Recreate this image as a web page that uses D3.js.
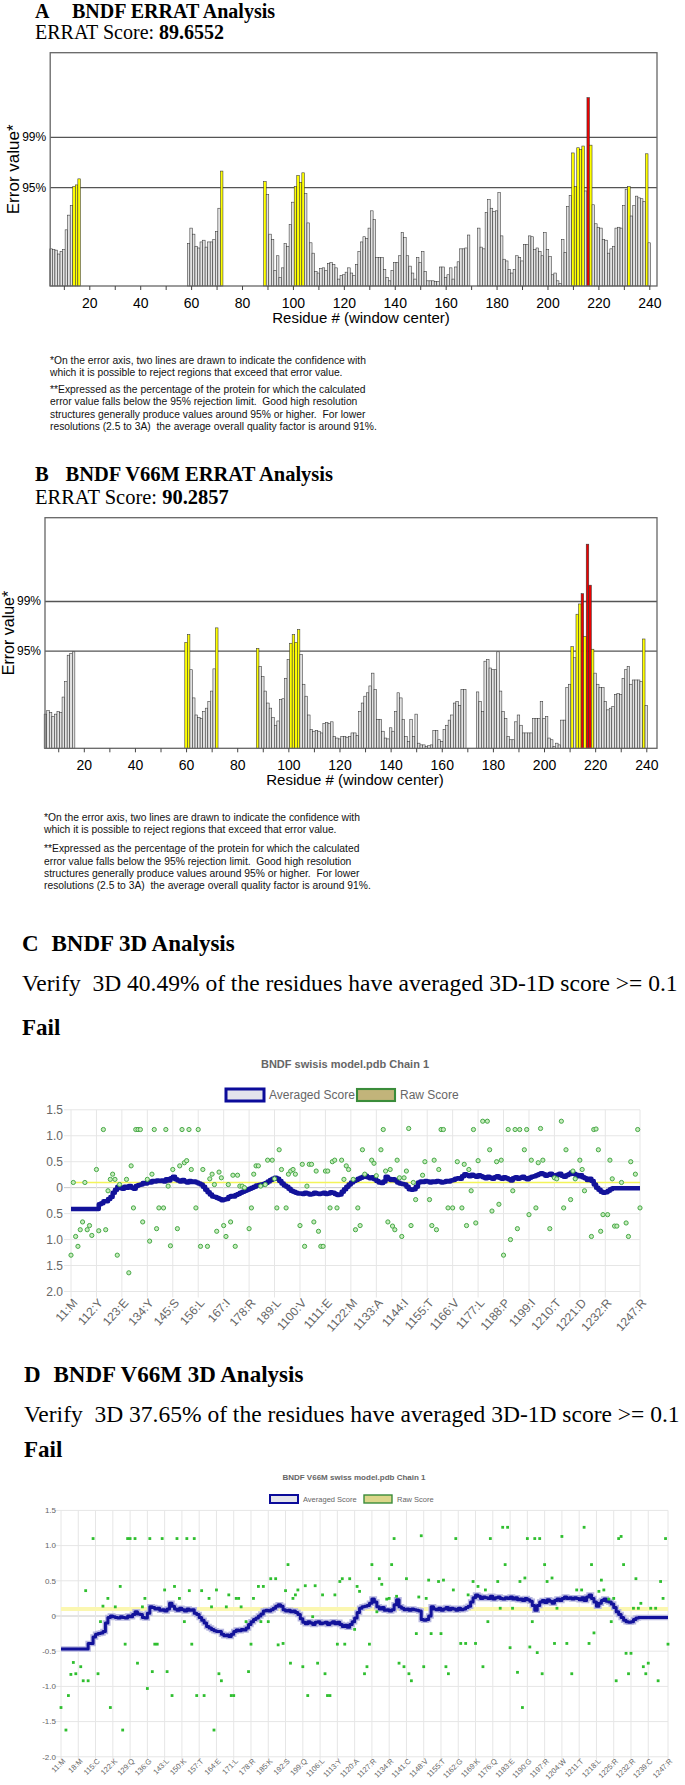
<!DOCTYPE html>
<html lang="en">
<head>
<meta charset="UTF-8">
<title>BNDF ERRAT and Verify3D</title>
<script src="https://cdn.jsdelivr.net/npm/d3@7"></script>
<style>
  body { margin: 0; background: #fff; }
  svg { display: block; }
  text { white-space: pre; }
</style>
</head>
<body>
<svg id="fig" width="685" height="1785"></svg>
<script>
// ---- ERRAT data (error value per residue, window centre) ----
var errLines = [11.38, 17.19];
var errLineLabels = ["95%", "99%"];
var errTicks = [10, 20, 30, 40, 50, 60, 70, 80, 90, 100, 110, 120, 130, 140, 150, 160, 170, 180, 190, 200, 210, 220, 230, 240];

// panel A: segments start residues + values
var errStartA = [5, 59, 89, 173];
var errValA = [
  [4.3, 4.2, 4.15, 3.7, 4.0, 4.2, 6.5, 8.2, 9.3, 11.5, 11.7, 12.4],
  [4.9, 6.7, 6.0, 4.6, 4.4, 5.1, 5.3, 4.5, 5.1, 5.1, 5.4, 6.3, 9.0, 13.3],
  [12.1, 10.6, 6.0, 5.4, 1.8, 3.5, 1.0, 2.1, 4.9, 4.6, 7.1, 9.7, 11.5, 12.8, 12.0, 13.1, 10.7, 7.3, 5.0, 3.8,
   1.7, 1.5, 2.0, 2.1, 1.8, 2.6, 2.7, 2.5,
   2.1, 0.8, 1.2, 1.3, 1.6, 2.1, 1.5, 1.2, 2.5, 4.0, 5.1, 5.7, 5.5, 6.7, 8.7, 7.7, 3.3, 3.3, 3.3, 1.9,
   1.0, 0.6, 1.8, 2.7, 2.7, 3.5, 6.2, 5.6, 3.5, 2.3, 1.5, 0.8, 3.3, 2.7, 4.0, 1.7, 0.6, 0.6, 0.6, 0.5,
   0.5, 2.2, 2.2, 1.0, 1.3, 2.1, 0.8, 2.2, 2.8, 4.3, 4.3, 4.4, 5.9],
  [6.7, 4.5, 4.3, 8.5, 10.0, 9.0, 8.6, 8.7, 10.8, 5.8, 3.1, 2.9, 1.9, 1.5, 1.9, 3.5, 3.3, 2.9, 4.8, 4.8,
   5.8, 5.7, 4.2, 4.4, 4.0, 3.5, 6.2, 4.2, 3.4, 1.3, 1.5, 0.6, 0.3, 5.4, 3.9, 9.2, 10.5, 15.4, 11.5, 16.0,
   15.8, 16.2, 11.0, 21.8, 16.3, 9.4, 7.2, 6.8, 6.7, 5.4, 5.3, 3.8, 4.3, 4.6, 6.7, 6.8, 6.7, 9.3, 11.2, 11.5,
   8.1, 9.3, 10.4, 10.2, 10.1, 9.8, 15.3, 5.0]
];

// panel B (V66M)
var errStartB = [5, 60, 88, 174];
var errValB = [
  [4.0, 4.4, 4.2, 3.7, 4.0, 4.3, 4.2, 6.0, 7.8, 10.9, 11.1, 11.3],
  [12.4, 13.3, 9.2, 5.9, 3.9, 3.6, 3.5, 4.3, 4.7, 5.5, 6.7, 9.3, 14.1],
  [11.7, 9.6, 8.4, 6.7, 5.3, 4.7, 3.6, 2.7, 3.2, 5.7, 5.8, 8.2, 10.4, 12.3, 13.3, 12.4, 13.9, 11.0,
   7.5, 6.1, 3.9, 2.2, 2.0, 2.1, 2.0, 1.8, 2.9, 3.0, 2.9, 3.1, 1.4, 1.2, 1.1, 1.4, 1.4, 1.3, 1.4, 1.8,
   1.8, 1.5, 4.3, 5.3, 6.1, 6.5, 7.3, 8.8, 6.9, 3.4, 3.4, 2.0, 1.2, 1.1, 2.4, 2.0, 4.3, 6.5, 5.9, 3.4,
   1.4, 0.8, 3.4, 1.4, 4.0, 0.6, 0.4, 0.4, 0.2, 0.3, 0.4, 2.1, 2.1, 1.0, 0.8, 2.2, 2.7, 3.3, 3.9, 5.3,
   5.5, 5.0, 6.9, 6.9],
  [6.6, 5.5, 4.3, 10.2, 10.4, 9.4, 9.2, 9.2, 11.3, 6.7, 4.3, 3.5, 1.4, 1.0, 1.0, 3.1, 3.9, 2.7, 1.8, 1.8,
   1.8, 1.8, 3.5, 3.5, 3.5, 5.5, 3.5, 3.7, 1.2, 1.0, 0.2, 0.6, 0.4, 3.3, 3.3, 7.1, 7.5, 11.9, 10.6, 15.7,
   16.9, 18.1, 13.1, 23.9, 19.1, 11.6, 8.8, 7.5, 7.1, 7.1, 5.5, 4.5, 4.7, 4.9, 6.3, 6.4, 6.3, 8.2, 9.2, 9.6,
   7.5, 8.0, 8.0, 8.0, 7.8, 12.8, 5.0]
];

var errNotes = [
  "*On the error axis, two lines are drawn to indicate the confidence with",
  "which it is possible to reject regions that exceed that error value.",
  "**Expressed as the percentage of the protein for which the calculated",
  "error value falls below the 95% rejection limit.  Good high resolution",
  "structures generally produce values around 95% or higher.  For lower",
  "resolutions (2.5 to 3A)  the average overall quality factor is around 91%."
];

// ---- Verify3D data ----
var v3dYTicks = [1.5, 1.0, 0.5, 0, -0.5, -1.0, -1.5, -2.0];
var v3dYLabelsC = ["1.5", "1.0", "0.5", "0", "0.5", "1.0", "1.5", "2.0"];
var v3dYLabelsD = ["1.5", "1.0", "0.5", "0", "-0.5", "-1.0", "-1.5", "-2.0"];
var passLine = 0.1;

var tickResC = [1, 12, 23, 34, 45, 56, 67, 78, 89, 100, 111, 122, 133, 144, 155, 166, 177, 188, 199, 210, 221, 232, 247];
var tickLabC = ["11:M", "112:Y", "123:E", "134:Y", "145:S", "156:L", "167:I", "178:R", "189:L", "1100:V", "1111:E", "1122:M",
  "1133:A", "1144:I", "1155:T", "1166:V", "1177:L", "1188:P", "1199:I", "1210:T", "1221:D", "1232:R", "1247:R"];

var tickResD = [1, 8, 15, 22, 29, 36, 43, 50, 57, 64, 71, 78, 85, 92, 99, 106, 113, 120, 127, 134, 141, 148, 155, 162,
  169, 176, 183, 190, 197, 204, 211, 218, 225, 232, 239, 247];
var tickLabD = ["11:M", "18:M", "115:C", "122:K", "129:Q", "136:G", "143:L", "150:K", "157:T", "164:E", "171:L", "178:R",
  "185:K", "192:S", "199:Q", "1106:L", "1113:Y", "1120:A", "1127:R", "1134:R", "1141:C", "1148:V", "1155:T", "1162:G",
  "1169:K", "1176:Q", "1183:E", "1190:G", "1197:R", "1204:W", "1211:T", "1218:L", "1225:R", "1232:R", "1239:C", "1247:R"];

// averaged 3D-1D score, residues 1..247
var avgC = [
  -0.41, -0.41, -0.41, -0.41, -0.41, -0.41, -0.41, -0.41, -0.41, -0.41, -0.41, -0.41,
  -0.32, -0.30, -0.26, -0.26, -0.22, -0.18, -0.10, -0.04, 0.02,
  0.0, -0.02, 0.02, 0.0, 0.03, 0.0, -0.02, 0.03, 0.05,
  0.06, 0.09, 0.08, 0.12, 0.10, 0.13, 0.12, 0.14,
  0.13, 0.14, 0.12, 0.16, 0.14, 0.18, 0.21, 0.16,
  0.14, 0.12, 0.15, 0.12, 0.10, 0.13, 0.11, 0.12, 0.10, 0.08,
  0.06, 0.02, -0.04, -0.09, -0.13,
  -0.17, -0.18, -0.20, -0.22, -0.24, -0.23, -0.22,
  -0.18, -0.16, -0.17, -0.14, -0.12, -0.10, -0.08, -0.06, -0.04,
  -0.02, 0.00, 0.02, 0.04, 0.05, 0.06, 0.07,
  0.09, 0.12, 0.15, 0.17, 0.19, 0.17,
  0.13, 0.08, 0.04, 0.02, -0.02, -0.06, -0.08, -0.10, -0.11,
  -0.11, -0.12, -0.10, -0.11, -0.13, -0.12, -0.10, -0.11, -0.12, -0.11, -0.10, -0.12, -0.11, -0.09,
  -0.10, -0.12, -0.14, -0.13,
  -0.08, -0.03, 0.02, 0.06, 0.10, 0.13, 0.15,
  0.17, 0.19, 0.21, 0.23, 0.20, 0.18, 0.20, 0.16, 0.13,
  0.10, 0.09, 0.12, 0.21,
  0.17, 0.15, 0.16, 0.14, 0.10,
  0.08, 0.07, 0.06, 0.02,
  -0.03, -0.04, -0.03, 0.02,
  0.10, 0.12, 0.11, 0.13, 0.12, 0.10, 0.12, 0.11, 0.13, 0.12, 0.10, 0.11, 0.13, 0.12, 0.14, 0.15,
  0.17, 0.18, 0.17,
  0.22, 0.26, 0.24, 0.22, 0.25, 0.23, 0.21, 0.24, 0.22,
  0.20, 0.18, 0.21, 0.19, 0.17, 0.20, 0.22, 0.19, 0.17, 0.20, 0.18,
  0.16, 0.14, 0.18, 0.20, 0.17, 0.19, 0.21, 0.18, 0.16, 0.19, 0.21,
  0.22, 0.24, 0.26, 0.28, 0.26, 0.23, 0.25, 0.27, 0.24, 0.22, 0.25, 0.27, 0.23, 0.21, 0.24,
  0.26, 0.29, 0.27, 0.25, 0.22, 0.24, 0.20,
  0.18, 0.15, 0.17, 0.13,
  0.06, 0.00, -0.04, -0.08, -0.10, -0.09,
  -0.06, -0.03, -0.01, -0.01,
  -0.01, -0.01, -0.01, -0.01, -0.01, -0.01, -0.01, -0.01, -0.01, -0.01, -0.01
];

var avgD = [
  -0.47, -0.47, -0.47, -0.47, -0.47, -0.47, -0.47, -0.47, -0.47, -0.47, -0.47,
  -0.39, -0.39, -0.30,
  -0.26, -0.25, -0.24, -0.22, -0.10,
  -0.02, 0.00, -0.01,
  -0.02, -0.03, -0.01, -0.02, -0.03, 0.00, -0.01,
  0.02, 0.06, 0.03, 0.02,
  -0.02, -0.03, 0.04,
  0.13, 0.12, 0.10, 0.11,
  0.08, 0.09, 0.07, 0.10,
  0.18, 0.14,
  0.10, 0.08, 0.11, 0.09, 0.07, 0.10, 0.08, 0.09,
  0.04, 0.02, -0.02, -0.06, -0.10,
  -0.15, -0.17, -0.19, -0.21, -0.22, -0.22,
  -0.26, -0.28, -0.27, -0.29, -0.26,
  -0.22, -0.20, -0.21, -0.19, -0.20, -0.17, -0.12,
  -0.08, -0.05, -0.03, 0.00, 0.03,
  0.07, 0.08, 0.07, 0.09, 0.11, 0.14,
  0.16, 0.14,
  0.09, 0.07, 0.08, 0.06, 0.07, 0.05, 0.02,
  -0.04, -0.09, -0.11,
  -0.08, -0.10, -0.12, -0.09, -0.08, -0.11, -0.10, -0.09, -0.12, -0.10, -0.08, -0.11, -0.09, -0.12,
  -0.15, -0.13, -0.16, -0.12,
  -0.08, -0.03, 0.05,
  0.11, 0.13, 0.14, 0.15, 0.18, 0.24,
  0.20, 0.13, 0.10, 0.12, 0.08, 0.09, 0.07,
  0.09, 0.16, 0.23,
  0.13, 0.11, 0.09, 0.10, 0.08, 0.10, 0.09, 0.08, 0.07,
  -0.05, -0.06, -0.05, 0.00,
  0.13, 0.10, 0.09, 0.11, 0.08, 0.10, 0.12, 0.09, 0.11, 0.10, 0.08, 0.11, 0.09, 0.10, 0.12, 0.14,
  0.20, 0.26, 0.30, 0.28,
  0.25, 0.27, 0.26, 0.25, 0.28, 0.24, 0.26, 0.27, 0.25, 0.24, 0.26, 0.25, 0.27, 0.24, 0.26,
  0.23, 0.24, 0.22, 0.25, 0.23, 0.21, 0.15,
  0.08, 0.15,
  0.20, 0.22, 0.19, 0.23, 0.21, 0.18, 0.22, 0.24, 0.22, 0.25,
  0.27, 0.25, 0.26, 0.24, 0.26, 0.25, 0.23, 0.26,
  0.22, 0.27, 0.30,
  0.25, 0.20, 0.14, 0.18, 0.22, 0.24, 0.21, 0.20, 0.17,
  0.12, 0.06, 0.02, -0.02,
  -0.06, -0.08, -0.09, -0.08,
  -0.05, -0.03, -0.02, -0.02,
  -0.02, -0.02, -0.02, -0.02, -0.02, -0.02, -0.02, -0.02, -0.02, -0.02, -0.02
];

// raw 3D-1D scores [residue, score]
var rawC = [[1,-1.3],[2,0.1],[3,-0.94],[4,-1.13],[5,-0.81],[6,-0.66],[7,0.1],[8,-0.81],[9,-0.73],[10,-0.92],
  [12,0.35],[13,-0.83],[15,1.12],[16,-0.81],[17,-0.06],[18,0.16],[19,0.26],[20,0.16],[21,-1.3],[22,0.06],
  [25,0.16],[26,-1.64],[27,0.42],[28,-0.39],[29,1.12],[30,1.12],[31,1.12],[32,-0.66],[34,0.16],[35,-1.03],
  [36,0.26],[37,1.12],[38,-0.79],[39,-0.39],[41,-0.39],[42,1.12],[43,0.03],[44,-1.12],[45,0.35],[47,-0.79],
  [48,0.42],[49,1.12],[50,0.48],[51,0.52],[52,1.12],[53,0.35],[55,-0.39],[56,1.12],[57,-1.13],[58,0.35],
  [60,-1.13],[61,0.17],[62,0.26],[63,0.06],[64,-0.84],[65,0.3],[66,0.19],[67,-0.73],[68,-0.94],[69,0.06],
  [70,-0.66],[71,0.24],[72,-1.13],[73,0.24],[74,0.03],[75,0.03],[76,0.0],[78,-0.79],[79,-0.39],[80,0.26],
  [81,0.42],[82,0.42],[83,0.03],[85,0.06],[86,0.53],[88,0.53],[89,0.17],[90,-0.39],[91,0.73],[92,0.35],
  [94,-0.39],[95,0.26],[96,0.32],[97,0.35],[98,0.26],[100,-0.73],[101,0.45],[102,-1.13],[103,0.03],[104,0.45],
  [105,0.45],[106,-0.66],[107,0.32],[108,-0.84],[109,-1.13],[110,-1.13],[111,0.32],[112,0.32],[113,-0.39],[114,0.5],
  [115,0.53],[116,-0.39],[118,0.53],[119,0.16],[120,0.42],[121,0.35],[123,0.16],[124,-0.81],[125,-0.39],[126,-0.73],
  [127,0.73],[128,0.26],[131,0.53],[132,0.47],[133,0.23],[135,0.73],[136,1.12],[137,0.32],[138,-0.66],[139,0.35],
  [140,-0.74],[141,-0.81],[142,0.53],[143,0.19],[144,-0.94],[145,0.19],[146,0.32],[147,1.14],[148,-0.73],[149,0.1],
  [150,-0.23],[153,0.24],[154,0.5],[156,-0.23],[157,-0.73],[158,0.53],[159,-0.81],[160,0.35],[161,1.12],[162,1.12],
  [164,-0.39],[166,-0.39],[168,0.5],[170,-0.39],[171,0.45],[172,-0.73],[173,0.35],[174,-0.06],[175,1.12],[176,-0.68],
  [177,0.52],[179,1.28],[181,1.28],[182,0.73],[183,-0.45],[185,0.5],[186,-0.32],[187,0.53],[188,-1.3],[190,1.12],
  [191,-1.0],[192,-0.06],[193,1.12],[194,-0.79],[195,1.12],[197,0.73],[198,1.12],[199,-0.52],[200,0.53],[202,-0.39],
  [203,0.48],[204,1.14],[205,0.53],[208,-0.79],[210,0.19],[211,0.17],[213,1.28],[214,-0.39],[215,0.73],[217,-0.23],
  [218,0.32],[219,0.17],[221,0.53],[222,0.35],[223,-0.06],[226,-0.94],[227,1.12],[228,1.13],[229,0.73],[230,-0.84],
  [231,-0.52],[233,-0.52],[234,0.53],[235,0.17],[236,-0.74],[237,-0.74],[239,0.1],[241,-0.68],[242,-0.94],[243,0.5],
  [245,0.26],[246,1.12],[247,-0.39]];

var rawD = [[1,-1.3],[3,-1.62],[4,-1.13],[5,-0.83],[6,-0.66],[7,-0.82],[9,-0.72],[10,-0.92],[11,0.36],[12,-0.92],
  [14,1.1],[16,-0.82],[17,-0.08],[18,0.14],[20,0.25],[21,-1.3],[23,0.13],[25,0.42],[26,-1.62],[27,-0.4],
  [28,1.1],[29,1.1],[31,1.1],[32,-0.67],[34,0.13],[35,0.25],[36,-1.03],[37,1.1],[38,-0.79],[39,-0.4],
  [40,-0.4],[42,1.1],[43,0.37],[44,-0.79],[46,-1.13],[47,0.42],[48,1.1],[49,0.25],[51,-0.08],[52,1.1],
  [53,0.36],[54,-0.4],[55,1.1],[56,-1.13],[58,0.36],[59,-1.13],[61,0.25],[62,0.13],[63,-1.62],[64,0.37],
  [65,-0.82],[66,-0.92],[68,0.13],[69,0.3],[70,-1.13],[71,-1.13],[72,0.25],[73,0.25],[74,0.13],[76,-0.08],
  [77,-0.79],[78,-0.4],[79,0.25],[81,0.42],[82,-0.08],[83,0.42],[85,-0.08],[86,0.53],[88,0.53],[89,-0.41],
  [91,-0.39],[92,0.36],[93,0.73],[94,-0.67],[95,0.25],[96,0.3],[97,0.37],[99,-0.72],[100,0.43],[101,-1.13],
  [103,-0.01],[104,0.43],[105,-0.67],[107,0.3],[108,-0.82],[109,-1.13],[110,-1.13],[112,0.3],[113,-0.4],[114,0.49],
  [115,0.53],[116,-0.4],[118,0.53],[120,-0.19],[121,0.42],[122,0.35],[124,-0.82],[125,-0.72],[126,-0.4],[127,0.73],
  [129,0.06],[130,0.53],[131,0.45],[133,0.24],[134,0.25],[135,0.73],[136,1.1],[137,0.28],[138,-0.67],[140,-0.72],
  [141,0.53],[142,-0.82],[143,-0.92],[145,-0.25],[146,0.27],[147,1.14],[148,-0.72],[149,0.25],[150,0.51],[151,-0.25],
  [154,0.49],[155,-0.25],[156,0.51],[157,-0.72],[158,-0.82],[160,0.37],[161,1.1],[163,-0.39],[165,-0.39],[166,0.3],
  [168,0.49],[169,-0.39],[170,0.42],[172,-0.72],[173,0.37],[174,-0.08],[175,1.1],[178,0.49],[179,0.11],[180,1.26],
  [181,0.73],[182,1.26],[183,-0.45],[184,0.11],[186,-0.8],[187,0.49],[188,-1.3],[189,0.54],[190,1.1],[191,-0.44],
  [192,-0.08],[193,1.1],[194,-0.52],[195,1.1],[196,-0.82],[197,0.73],[198,0.49],[200,0.54],[201,-0.39],[202,0.11],
  [204,1.13],[206,-0.39],[208,-0.82],[210,0.37],[212,0.37],[213,1.26],[215,-0.39],[216,0.73],[217,-0.24],[219,0.35],
  [220,0.51],[221,0.37],[223,0.24],[224,-0.08],[225,0.25],[226,-0.92],[227,1.1],[228,1.13],[229,0.73],[230,-0.53],
  [231,-0.82],[232,-0.53],[233,0.11],[234,0.53],[235,0.11],[236,0.18],[237,-0.72],[238,-0.82],[239,-0.67],[240,0.11],
  [242,0.11],[243,-0.92],[244,0.49],[245,0.25],[246,1.1],[247,-0.4]];

var svg = d3.select("#fig");
var SERIF = '"Liberation Serif", "Times New Roman", serif';
var SANS = '"Liberation Sans", Arial, sans-serif';

// headings
function heading(x, y, letter, gap, title, size) {
  var t = svg.append("text").attr("x", x).attr("y", y)
    .style("font-family", SERIF).style("font-size", size + "px").style("font-weight", "bold");
  t.append("tspan").text(letter);
  t.append("tspan").attr("x", x + gap).text(title);
}
function scoreLine(x, y, label, score, size) {
  var t = svg.append("text").attr("x", x).attr("y", y)
    .style("font-family", SERIF).style("font-size", size + "px");
  t.append("tspan").text(label);
  t.append("tspan").style("font-weight", "bold").text(score);
}

// ---- ERRAT bar chart ----
function drawErrat(c) {
  var g = svg.append("g");
  var x = d3.scaleLinear().domain([20, 240]).range(c.xr);
  var y = d3.scaleLinear().domain([0, 27]).range([c.bottom, c.top]);
  var bw = x(1) - x(0);

  var bars = [];
  c.starts.forEach(function(s, i) {
    c.vals[i].forEach(function(v, j) { bars.push({ r: s + j, v: v }); });
  });

  // threshold lines
  g.selectAll("line.thr").data(errLines).join("line")
    .attr("x1", c.left).attr("x2", c.right)
    .attr("y1", function(d) { return y(d); }).attr("y2", function(d) { return y(d); })
    .attr("stroke", "#555").attr("stroke-width", 1.3);
  g.selectAll("text.thr").data(errLines).join("text")
    .attr("x", c.left - 4).attr("y", function(d) { return y(d) + 4; })
    .attr("text-anchor", "end")
    .style("font-family", SANS).style("font-size", "12px")
    .text(function(d, i) { return errLineLabels[i]; });

  g.selectAll("rect.bar").data(bars).join("rect")
    .attr("x", function(d) { return x(d.r) - bw / 2; })
    .attr("width", bw)
    .attr("y", function(d) { return y(d.v); })
    .attr("height", function(d) { return c.bottom - y(d.v); })
    .attr("fill", function(d) { return d.v > errLines[1] ? "#ee0000" : d.v > errLines[0] ? "#ffff00" : "#e2e2e2"; })
    .attr("stroke", "#333").attr("stroke-width", 0.55);

  // frame
  g.append("rect").attr("x", c.left).attr("y", c.top)
    .attr("width", c.right - c.left).attr("height", c.bottom - c.top)
    .attr("fill", "none").attr("stroke", "#666").attr("stroke-width", 1.3);

  var ax = g.append("g").attr("transform", "translate(0," + c.bottom + ")")
    .call(d3.axisBottom(x).tickValues(errTicks).tickSize(4)
      .tickFormat(function(d) { return d % 20 === 0 ? d : ""; }));
  ax.select(".domain").remove();
  ax.selectAll("line").attr("stroke", "#444");
  ax.selectAll("text").attr("dy", "1.05em").style("font-family", SANS).style("font-size", "14px").attr("fill", "#000");

  g.append("text").attr("x", c.xlab).attr("y", c.bottom + 37).attr("text-anchor", "middle")
    .style("font-family", SANS).style("font-size", "15px").text("Residue # (window center)");
  g.append("text").attr("transform", "translate(" + c.ylabX + "," + (c.top + c.bottom) / 2 + ") rotate(-90)")
    .attr("text-anchor", "middle")
    .style("font-family", SANS).style("font-size", c.ylabSize + "px").text("Error value*");

  g.selectAll("text.note").data(errNotes).join("text")
    .attr("x", c.noteX)
    .attr("y", function(d, i) { return c.noteY[i]; })
    .style("font-family", SANS).style("font-size", "10.3px").attr("fill", "#111")
    .text(function(d) { return d; });
}

// ---- Verify3D line chart ----
function drawV3d(c) {
  var g = svg.append("g");
  var x = d3.scaleLinear().domain([1, 247]).range(c.xr);
  var y = d3.scaleLinear().domain([-2, 1.5]).range(c.yr);
  var x0 = c.xr[0], x1 = c.xr[1];

  // title + legend
  g.append("text").attr("x", c.titleX).attr("y", c.titleY).attr("text-anchor", "middle")
    .style("font-family", SANS).style("font-size", c.titleSize + "px").style("font-weight", "bold")
    .attr("fill", "#666").text(c.title);
  var L = c.legend;
  g.append("rect").attr("x", L.x1).attr("y", L.y - L.h / 2).attr("width", L.w).attr("height", L.h)
    .attr("fill", "#e4e4ec").attr("stroke", "#0b0b9a").attr("stroke-width", L.sw);
  g.append("text").attr("x", L.x1 + L.w + 5).attr("y", L.y).attr("dy", "0.35em")
    .style("font-family", SANS).style("font-size", L.fs + "px").attr("fill", "#666").text("Averaged Score");
  g.append("rect").attr("x", L.x2).attr("y", L.y - L.h / 2).attr("width", L.w).attr("height", L.h)
    .attr("fill", c.rawBox).attr("stroke", "#3a8c3a").attr("stroke-width", L.sw * 0.7);
  g.append("text").attr("x", L.x2 + L.w + 5).attr("y", L.y).attr("dy", "0.35em")
    .style("font-family", SANS).style("font-size", L.fs + "px").attr("fill", "#666").text("Raw Score");

  // grid
  g.selectAll("line.hg").data(v3dYTicks).join("line")
    .attr("x1", x0 - 7).attr("x2", x1)
    .attr("y1", function(d) { return y(d); }).attr("y2", function(d) { return y(d); })
    .attr("stroke", function(d) { return d === 0 ? "#c8c8c8" : "#e6e6e6"; }).attr("stroke-width", 1);
  g.selectAll("line.vg").data(c.ticks).join("line")
    .attr("x1", function(d) { return x(d); }).attr("x2", function(d) { return x(d); })
    .attr("y1", y(1.5)).attr("y2", y(-2) + c.tickLen)
    .attr("stroke", "#e6e6e6").attr("stroke-width", 1);

  g.selectAll("text.yl").data(v3dYTicks).join("text")
    .attr("x", x0 - c.yPad).attr("y", function(d) { return y(d); }).attr("dy", "0.35em")
    .attr("text-anchor", "end")
    .style("font-family", SANS).style("font-size", c.tickSize + "px").attr("fill", "#666")
    .text(function(d, i) { return c.yLabels[i]; });

  g.selectAll("text.xl").data(c.ticks).join("text")
    .attr("transform", function(d) { return "translate(" + (x(d) + c.xlOff[0]) + "," + (y(-2) + c.xlOff[1]) + ") rotate(" + c.rot + ")"; })
    .attr("text-anchor", "end").attr("dy", "0.35em")
    .style("font-family", SANS).style("font-size", c.xTickSize + "px").attr("fill", "#666")
    .text(function(d, i) { return c.tickLabels[i]; });

  // 0.1 pass line
  g.append("line").attr("x1", x0).attr("x2", x1).attr("y1", y(passLine)).attr("y2", y(passLine))
    .attr("stroke", c.passColor).attr("stroke-width", c.passWidth);

  // averaged score
  var line = d3.line().x(function(d, i) { return x(i + 1); }).y(function(d) { return y(d); }).curve(d3.curveStepAfter);
  if (c.halo) {
    g.append("path").datum(c.avg).attr("d", line).attr("fill", "none")
      .attr("stroke", "#b8b8e0").attr("stroke-width", c.avgWidth + 2.5);
  }
  g.append("path").datum(c.avg).attr("d", line).attr("fill", "none")
    .attr("stroke", "#12129a").attr("stroke-width", c.avgWidth).attr("stroke-linejoin", "round");

  // raw score points
  if (c.square) {
    g.selectAll("rect.raw").data(c.raw).join("rect")
      .attr("x", function(d) { return x(d[0]) - 1.4; }).attr("y", function(d) { return y(d[1]) - 1.4; })
      .attr("width", 2.8).attr("height", 2.8).attr("fill", "#2fbf2f");
  } else {
    g.selectAll("circle.raw").data(c.raw).join("circle")
      .attr("cx", function(d) { return x(d[0]); }).attr("cy", function(d) { return y(d[1]); })
      .attr("r", 2.1).attr("fill", "#c6ecbc").attr("stroke", "#46a846").attr("stroke-width", 1);
  }
}

// ---------- panel A ----------
heading(35, 18, "A", 37, "BNDF ERRAT Analysis", 20);
scoreLine(35, 39, "ERRAT Score: ", "89.6552", 20);
drawErrat({
  xr: [89.3, 649.3], left: 50.2, right: 657, top: 52.7, bottom: 286,
  starts: errStartA, vals: errValA, xlab: 361, ylabX: 19, ylabSize: 17,
  noteX: 50, noteY: [363.5, 375.5, 392.5, 405, 417.5, 430]
});

// ---------- panel B ----------
heading(35, 481, "B", 30.5, "BNDF V66M ERRAT Analysis", 20.5);
scoreLine(35, 503.5, "ERRAT Score: ", "90.2857", 20.5);
drawErrat({
  xr: [83.8, 646.3], left: 45, right: 657, top: 517.7, bottom: 748.3,
  starts: errStartB, vals: errValB, xlab: 355, ylabX: 13.5, ylabSize: 16,
  noteX: 44, noteY: [821, 833, 852, 864.5, 876.5, 888.5]
});

// ---------- panel C ----------
heading(22, 951, "C", 29.5, "BNDF 3D Analysis", 23);
svg.append("text").attr("x", 22).attr("y", 991).style("font-family", SERIF).style("font-size", "23.5px")
  .text("Verify  3D 40.49% of the residues have averaged 3D-1D score >= 0.1");
svg.append("text").attr("x", 22).attr("y", 1035).style("font-family", SERIF).style("font-size", "23px")
  .style("font-weight", "bold").text("Fail");
drawV3d({
  xr: [71, 640], yr: [1291.5, 1109.8], ticks: tickResC, tickLabels: tickLabC, yLabels: v3dYLabelsC,
  avg: avgC, raw: rawC, title: "BNDF swisis model.pdb Chain 1", titleX: 345, titleY: 1068, titleSize: 11,
  legend: { x1: 226, x2: 357, y: 1095, w: 38, h: 12, sw: 3, fs: 12 }, rawBox: "#c2b47a",
  tickSize: 12, xTickSize: 12, yPad: 8, rot: -48, xlOff: [4, 9], tickLen: 6,
  passColor: "#f4f45a", passWidth: 1.5, avgWidth: 4.5, halo: false, square: false
});

// ---------- panel D ----------
heading(24, 1382, "D", 29.5, "BNDF V66M 3D Analysis", 23);
svg.append("text").attr("x", 24).attr("y", 1422).style("font-family", SERIF).style("font-size", "23.5px")
  .text("Verify  3D 37.65% of the residues have averaged 3D-1D score >= 0.1");
svg.append("text").attr("x", 24).attr("y", 1457).style("font-family", SERIF).style("font-size", "23px")
  .style("font-weight", "bold").text("Fail");
drawV3d({
  xr: [61, 668], yr: [1756.8, 1510.4], ticks: tickResD, tickLabels: tickLabD, yLabels: v3dYLabelsD,
  avg: avgD, raw: rawD, title: "BNDF V66M swiss model.pdb Chain 1", titleX: 354, titleY: 1480, titleSize: 8,
  legend: { x1: 270, x2: 364, y: 1499, w: 28, h: 8, sw: 2, fs: 7.5 }, rawBox: "#dcd68a",
  tickSize: 8, xTickSize: 7.5, yPad: 5, rot: -45, xlOff: [3, 3], tickLen: 3,
  passColor: "#fbf7b0", passWidth: 4, avgWidth: 3, halo: true, square: true
});
</script>
</body>
</html>
